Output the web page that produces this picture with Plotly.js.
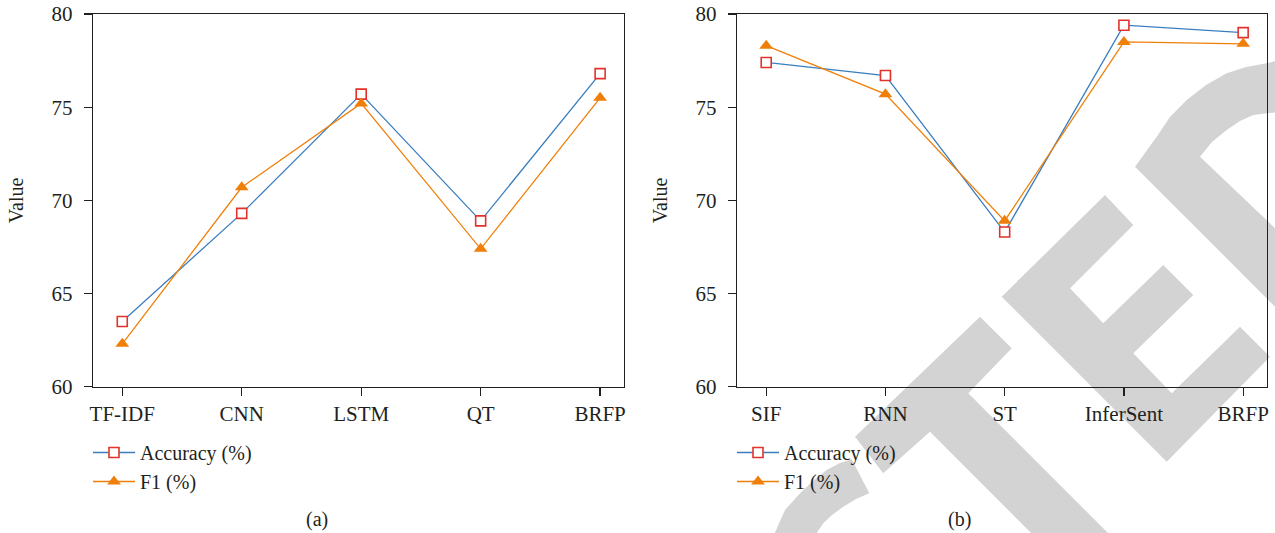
<!DOCTYPE html>
<html>
<head>
<meta charset="utf-8">
<script src="https://cdn.plot.ly/plotly-3.0.1.min.js"></script>
<style>
  html, body { margin: 0; padding: 0; background: #ffffff; }
  #chart { width: 1275px; height: 533px; }
</style>
</head>
<body>
<div id="chart"></div>
<script>
// ---- data ----
const categoriesA = ["TF-IDF", "CNN", "LSTM", "QT", "BRFP"];
const accuracyA   = [63.5, 69.3, 75.7, 68.9, 76.8];
const f1A         = [62.3, 70.7, 75.2, 67.4, 75.5];

const categoriesB = ["SIF", "RNN", "ST", "InferSent", "BRFP"];
const accuracyB   = [77.4, 76.7, 68.3, 79.4, 79.0];
const f1B         = [78.3, 75.7, 68.9, 78.5, 78.4];

const seriesNames = ["Accuracy (%)", "F1 (%)"];
const panelLabels = ["(a)", "(b)"];
const yTickVals   = [60, 65, 70, 75, 80];

// ---- style ----
const W = 1275, H = 533;
const FONT = "Liberation Serif, Times New Roman, serif";
const INK = "#231f20";
const BLUE = "#3a7ebf";
const ORANGE = "#f07f09";
const RED = "#e2322b";

function px(X) { return X / W; }
function py(Y) { return 1 - Y / H; }

function accTrace(x, y, xa, ya, leg) {
  return {
    type: "scatter", mode: "lines+markers", name: seriesNames[0],
    x: x, y: y, xaxis: xa, yaxis: ya, legend: leg,
    line: { color: BLUE, width: 1.3 },
    marker: { symbol: "square", size: 10, color: "#ffffff", line: { color: RED, width: 1.6 } }
  };
}
function f1Trace(x, y, xa, ya, leg) {
  return {
    type: "scatter", mode: "lines+markers", name: seriesNames[1],
    x: x, y: y, xaxis: xa, yaxis: ya, legend: leg,
    line: { color: ORANGE, width: 1.3 },
    marker: { symbol: "triangle-up", size: 12, color: ORANGE, line: { width: 0 } }
  };
}

const data = [
  accTrace(categoriesA, accuracyA, "x", "y", "legend"),
  f1Trace(categoriesA, f1A, "x", "y", "legend"),
  accTrace(categoriesB, accuracyB, "x2", "y2", "legend2"),
  f1Trace(categoriesB, f1B, "x2", "y2", "legend2")
];

function xAxis(domain, anchor) {
  return {
    domain: domain, anchor: anchor, type: "category",
    range: [-0.245, 4.2], fixedrange: true,
    showline: true, mirror: true, linecolor: INK, linewidth: 1.3,
    ticks: "outside", ticklen: 8, tickwidth: 1.3, tickcolor: INK,
    showgrid: false, zeroline: false,
    tickfont: { family: FONT, size: 21, color: INK }
  };
}
function yAxis(domain, anchor) {
  return {
    domain: domain, anchor: anchor,
    range: [60, 80], tickvals: yTickVals, fixedrange: true,
    showline: true, mirror: true, linecolor: INK, linewidth: 1.3,
    ticks: "outside", ticklen: 8, tickwidth: 1.3, tickcolor: INK,
    ticklabelstandoff: 7,
    showgrid: false, zeroline: false,
    tickfont: { family: FONT, size: 21, color: INK },
    title: { text: "Value", font: { family: FONT, size: 20, color: INK }, standoff: 22 }
  };
}

// ---- watermark (decoration) in pixel coordinates ----
const wmPolys = [
  // C (arc fragment)
  [[771.7,540],[785,510],[800,493.3],[813,481],[826.7,470],[840,463],[851.7,459.3],[869.3,493.3],[856,499],[843.3,506.7],[832,515],[823.3,523.3],[812,540]],
  // T
  [[855,436.7],[980,316.7],[1011.7,348.3],[968.3,393.3],[1115,540],[1038,540],[930,431.7],[883.3,473.3]],
  // E
  [[1001.7,296.7],[1105,195],[1133.3,225],[1070,288.3],[1103.3,323.3],[1163.3,265],[1193.3,295],[1133.3,353.3],[1171.7,393.3],[1240,326.7],[1270,356.7],[1166.7,461.7]],
  // D
  [[1280,60],[1266.7,63.3],[1246,67],[1226.7,73.3],[1206,85],[1186.7,100],[1170,117],[1156.7,136.7],[1135,166.7],[1280,311.7],[1280,233],[1200,156.7],[1212,142],[1226.7,130],[1240,121],[1253.3,115],[1266.7,113.3],[1280,112]]
];
const shapes = wmPolys.map(pts => ({
  type: "path", xref: "paper", yref: "paper", layer: "below",
  path: "M" + pts.map(p => px(p[0]).toFixed(5) + "," + py(p[1]).toFixed(5)).join("L") + "Z",
  fillcolor: "#d3d3d3", line: { width: 0 }
}));

const legendBase = {
  font: { family: FONT, size: 20, color: INK },
  bgcolor: "rgba(0,0,0,0)", borderwidth: 0,
  xanchor: "left", yanchor: "top", orientation: "v",
  tracegroupgap: 0, itemwidth: 42
};

const layout = {
  width: W, height: H,
  margin: { l: 0, r: 0, t: 0, b: 0 },
  paper_bgcolor: "rgba(0,0,0,0)", plot_bgcolor: "rgba(0,0,0,0)",
  font: { family: FONT, size: 20, color: INK },
  showlegend: true,
  xaxis: xAxis([px(93), px(624)], "y"),
  yaxis: yAxis([py(386.7), py(14)], "x"),
  xaxis2: xAxis([px(737), px(1267)], "y2"),
  yaxis2: yAxis([py(386.7), py(14)], "x2"),
  legend: Object.assign({}, legendBase, { x: px(88), y: py(433) }),
  legend2: Object.assign({}, legendBase, { x: px(732), y: py(433) }),
  shapes: shapes,
  annotations: [
    { text: panelLabels[0], xref: "paper", yref: "paper", x: px(317), y: py(519), xanchor: "center", yanchor: "middle", showarrow: false, font: { family: FONT, size: 20, color: INK } },
    { text: panelLabels[1], xref: "paper", yref: "paper", x: px(959), y: py(519), xanchor: "center", yanchor: "middle", showarrow: false, font: { family: FONT, size: 20, color: INK } }
  ]
};

Plotly.newPlot("chart", data, layout, { displayModeBar: false, staticPlot: true });
</script>
</body>
</html>
